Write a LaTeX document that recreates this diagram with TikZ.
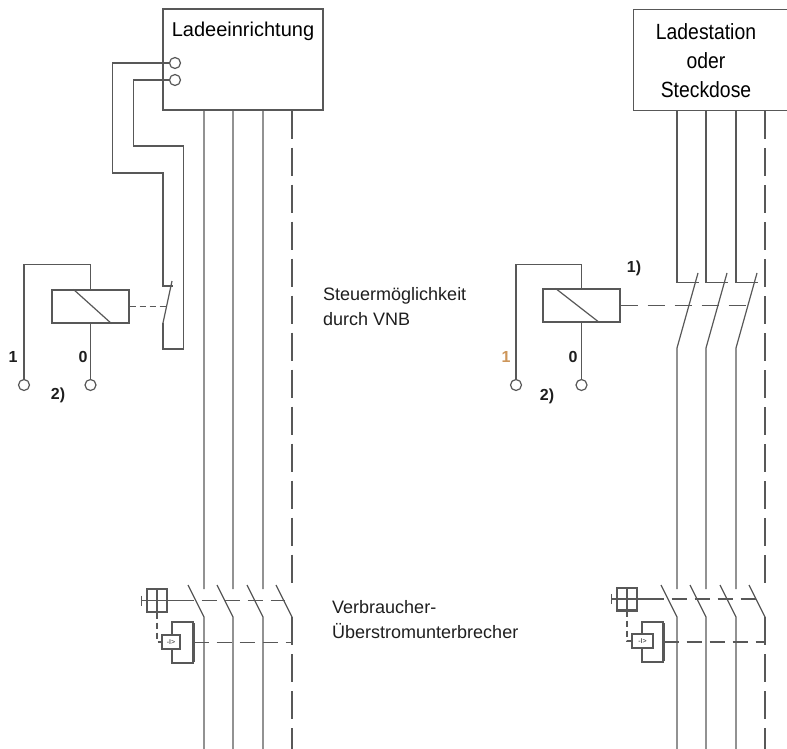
\documentclass[tikz,border=0pt]{standalone}
\usepackage{fontspec}
\setmainfont{Liberation Sans}
\newfontfamily\schmal[FakeStretch=0.88]{Liberation Sans}
\usepackage{xcolor}
\usetikzlibrary{positioning}
\definecolor{linie}{RGB}{88,88,88}
\definecolor{schrift}{RGB}{30,30,30}
\definecolor{einsfarbe}{RGB}{205,150,90}
\tikzset{Schaltplan/.style = {% Stromlaufplan
     leitung/.style = {draw=linie, line width=1.2pt},
     nleiter/.style = {leitung, dash pattern=on 28pt off 9pt},
    wirkkurz/.style = {leitung, dash pattern=on 6pt off 4pt},
    wirklang/.style = {leitung, dash pattern=on 17pt off 10pt},
      koppel/.style = {leitung, dash pattern=on 15pt off 8pt},
      kasten/.style = {rectangle, draw=linie, line width=1.2pt, fill=white, inner sep=0pt},
      relais/.style = {kasten, minimum width=77pt, minimum height=33pt},
      klemme/.style = {circle, draw=linie, line width=1.2pt, fill=white,
                       minimum size=11pt, inner sep=0pt},
       titel/.style = {text=black, font=\fontsize{20}{29}\selectfont, inner sep=0pt, align=center},
     hinweis/.style = {text=schrift, font=\fontsize{18}{25}\selectfont, inner sep=0pt, align=left},
      ziffer/.style = {text=schrift, font=\fontsize{16}{16}\selectfont\bfseries, inner sep=0pt}}
        }

\begin{document}
\begin{tikzpicture}[Schaltplan, x=1pt, y=-1pt]
\clip (0,0) rectangle (787,749);

% nodes
\node (ladeE)        [kasten, minimum width=160pt, minimum height=101pt] at (243,59.5) {};
\node (ladeE-text)   [titel, anchor=north] at (243,22) {Ladeeinrichtung};
\node (klemmeA)      [klemme] at (175,63) {};
\node (klemmeB)      [klemme] at (175,80) {};
\node (station)      [kasten, minimum width=200pt, minimum height=101pt, anchor=north west] at (633,9) {};
\node (station-text) [titel, font=\schmal\fontsize{22}{29}\selectfont, anchor=north] at (706,23) {Ladestation\\oder\\Steckdose};
\node (relaisL)      [relais] at (90.5,306.5) {};
\node (relaisR)      [relais] at (581.5,305.5) {};
\node (klemmeL1)     [klemme] at (24,385) {};
\node (klemmeL0)     [klemme] at (90.5,385) {};
\node (klemmeR1)     [klemme] at (516,385) {};
\node (klemmeR0)     [klemme] at (581.5,385) {};
\node (eins-L)       [ziffer] at (13,357) {1};
\node (null-L)       [ziffer] at (83,357) {0};
\node (fussnote-L)   [ziffer] at (58,395) {2)};
\node (eins-R)       [ziffer, text=einsfarbe] at (506,357) {1};
\node (null-R)       [ziffer] at (573,357) {0};
\node (fussnote-R)   [ziffer] at (547,396) {2)};
\node (fussnote-R1)  [ziffer] at (634,268) {1)};
\node (steuer)       [hinweis, anchor=north west] at (323,287) {Steuermöglichkeit\\durch VNB};
\node (verbraucher)  [hinweis, anchor=north west] at (332,600) {Verbraucher-\\Überstromunterbrecher};

% contact points
\coordinate (KL)  at (163,323);
\coordinate (KR1) at (677,348);
\coordinate (KR2) at (706,348);
\coordinate (KR3) at (736,348);
\coordinate (QL1) at (204,589);
\coordinate (QL2) at (233,589);
\coordinate (QL3) at (263,589);
\coordinate (QLN) at (292,589);
\coordinate (QR1) at (677,589);
\coordinate (QR2) at (706,589);
\coordinate (QR3) at (736,589);
\coordinate (QRN) at (765,589);
\coordinate (boden) at (0,749);

% relays
\draw[leitung] ([shift={(-17,0)}]relaisL.north) -- ([shift={(21,0)}]relaisL.south);
\draw[leitung] (relaisL.north) -- ++(0,-25) -| (klemmeL1.north);
\draw[leitung] (relaisL.south) -- (klemmeL0.north);
\draw[leitung] ([shift={(-26,0)}]relaisR.north) -- ([shift={(18,0)}]relaisR.south);
\draw[leitung] (relaisR.north) -- ++(0,-24) -| (klemmeR1.north);
\draw[leitung] (relaisR.south) -- (klemmeR0.north);

% control contact at the Ladeeinrichtung
\draw[leitung] (klemmeA.west) -| ++(-56.5,110) -| ([shift={(0,-37)}]KL) -- ++(10,0);
\draw[leitung] (klemmeB.west) -| ++(-35.5,66) -| ++(50,203) -| (KL);
\draw[leitung] (KL) -- ++(9,-42);
\draw[wirkkurz] (relaisL.east) -- ++(37,0);

% left conductors
\draw[leitung] (ladeE.south -| QL1) -- (QL1) ([shift={(-16,-4)}]QL1) -- ++(16,32) -- (QL1 |- boden);
\draw[leitung] (ladeE.south -| QL2) -- (QL2) ([shift={(-16,-4)}]QL2) -- ++(16,32) -- (QL2 |- boden);
\draw[leitung] (ladeE.south -| QL3) -- (QL3) ([shift={(-16,-4)}]QL3) -- ++(16,32) -- (QL3 |- boden);
\draw[nleiter] (ladeE.south -| QLN) -- (QLN);
\draw[leitung] ([shift={(-16,-4)}]QLN) -- ++(16,32) coordinate (QLNu);
\draw[nleiter] (QLNu) -- (QLNu |- boden);

% right conductors with switched contacts
\draw[leitung] (station.south -| KR1) -- ++(0,171) -- ++(22,0);
\draw[leitung] (station.south -| KR2) -- ++(0,171) -- ++(22,0);
\draw[leitung] (station.south -| KR3) -- ++(0,171) -- ++(22,0);
\draw[leitung] ([shift={(21,-75)}]KR1) -- (KR1) -- (QR1) ([shift={(-16,-4)}]QR1) -- ++(16,32) -- (QR1 |- boden);
\draw[leitung] ([shift={(21,-75)}]KR2) -- (KR2) -- (QR2) ([shift={(-16,-4)}]QR2) -- ++(16,32) -- (QR2 |- boden);
\draw[leitung] ([shift={(21,-75)}]KR3) -- (KR3) -- (QR3) ([shift={(-16,-4)}]QR3) -- ++(16,32) -- (QR3 |- boden);
\draw[wirklang] (relaisR.east) -- ++(128,0);
\draw[nleiter] (station.south -| QRN) -- (QRN);
\draw[leitung] ([shift={(-16,-4)}]QRN) -- ++(16,32) coordinate (QRNu);
\draw[nleiter] (QRNu) -- (QRNu |- boden);

% left overcurrent breaker
\node (ausloeserL) [kasten, minimum width=20pt, minimum height=23pt] at (157,600.5) {};
\node (gehaeuseL)  [kasten, minimum width=21pt, minimum height=41pt] at (182.5,642.5) {};
\node (messL)      [kasten, minimum width=18pt, minimum height=14pt, text=schrift,
                    font=\fontsize{7}{7}\selectfont] at (171,642) {-I>};
\draw[leitung] (ausloeserL.north) -- (ausloeserL.south);
\draw[leitung] ([shift={(-5,0)}]ausloeserL.west) -- ([shift={(11,0)}]ausloeserL.east);
\draw[leitung] ([shift={(-5,-5)}]ausloeserL.west) -- ++(0,10);
\draw[koppel] ([shift={(11,0)}]ausloeserL.east) -- ++(106,0);
\draw[wirkkurz] (ausloeserL.south) |- (messL.west);
\draw[leitung, line width=3pt] ([shift={(0,2)}]gehaeuseL.north east) -- ([shift={(0,-2)}]gehaeuseL.south east);
\draw[koppel] (gehaeuseL.east) -- (gehaeuseL.east -| QLN);

% right overcurrent breaker
\node (ausloeserR) [kasten, minimum width=20pt, minimum height=22pt] at (627,599) {};
\node (gehaeuseR)  [kasten, minimum width=21pt, minimum height=40pt] at (652.5,642) {};
\node (messR)      [kasten, minimum width=21pt, minimum height=14pt, text=schrift,
                    font=\fontsize{7}{7}\selectfont] at (642.5,641) {-I>};
\draw[leitung] (ausloeserR.north) -- (ausloeserR.south);
\draw[leitung] ([shift={(-5,0)}]ausloeserR.west) -- ([shift={(11,0)}]ausloeserR.east);
\draw[leitung] ([shift={(-5,-5)}]ausloeserR.west) -- ++(0,10);
\draw[leitung, line width=2.5pt] (ausloeserR.south west) -- (ausloeserR.south east);
\draw[koppel] ([shift={(11,0)}]ausloeserR.east) -- ++(108,0);
\draw[wirkkurz] (ausloeserR.south) |- (messR.west);
\draw[leitung, line width=3pt] ([shift={(0,2)}]gehaeuseR.north east) -- ([shift={(0,-2)}]gehaeuseR.south east);
\draw[koppel] (gehaeuseR.east) -- (gehaeuseR.east -| QRN);
\end{tikzpicture}
\end{document}
